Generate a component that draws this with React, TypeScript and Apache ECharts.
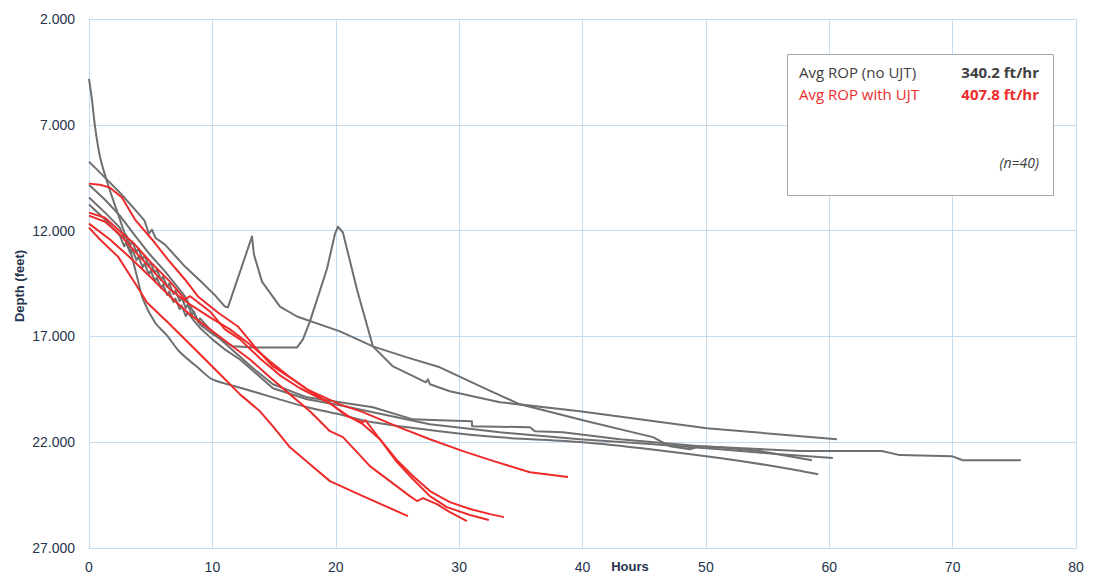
import React, { useEffect, useRef } from "react";
import * as echarts from "echarts";

// Hours vs depth (feet) per run — gray: no UJT, red: with UJT
const noUjtRun1: [number, number][] = [[0,4830],[0.24,5820],[0.49,7090],[0.89,8510],[1.54,9830],[2.51,11480],[3.32,12900],[3.89,14170],[4.38,15250],[5.35,16340],[6.32,16950],[7.3,17700],[9.0,18560],[10.0,19030],[12.4,19450],[14.9,19880],[17.7,20350],[20.3,20680],[23.0,21060],[28.4,21480],[33.3,21770],[40.0,22000],[45.5,22330],[51.1,22750],[56.0,23180],[59.1,23510]];
const noUjtRun2: [number, number][] = [[0,8750],[0.65,9120],[1.46,9590],[2.51,10210],[3.73,11010],[4.5,11530],[4.85,12150],[5.1,11950],[5.4,12350],[6.16,12660],[7.78,13700],[9.16,14450],[10.2,15050],[11.02,15590],[11.26,15630],[13.21,12280],[13.37,13130],[14.02,14410],[15.48,15590],[16.86,16060],[20.34,16760],[23.01,17470],[25.77,17990],[28.44,18460],[32.25,19500],[34.93,20210],[40.36,21010],[45.71,21760],[47.08,22190],[48.7,22330],[49.51,22190],[51.13,22240],[54.38,22420],[58.59,22850]];
const noUjtRun3: [number, number][] = [[0,9830],[1.3,10540],[2.5,11290],[3.73,12240],[4.94,13130],[6.16,13930],[7.78,15110],[9.0,16430],[10.05,16910],[11.67,17470],[13.5,17520],[16.86,17520],[17.34,17140],[17.91,16290],[19.29,13800],[19.94,12150],[20.18,11810],[20.58,12090],[21.72,14780],[23.01,17470],[24.64,18420],[27.31,19170],[27.47,19030],[27.63,19260],[29.25,19590],[33.31,20110],[39.79,20540],[50.08,21340],[60.62,21860]];
const noUjtRun4: [number, number][] = [[0,10440],[1.3,11150],[2.5,11860],[2.85,12360],[3.0,12190],[3.35,12690],[3.5,12520],[3.85,13020],[4.0,12850],[4.35,13350],[4.5,13180],[4.85,13680],[5.0,13510],[5.35,14010],[5.5,13840],[5.85,14340],[6.0,14170],[6.35,14670],[6.5,14500],[6.85,15000],[7.0,14830],[7.35,15330],[7.5,15160],[7.85,15660],[8.0,15490],[8.35,15990],[8.5,15820],[8.85,16320],[9.0,16150],[10.0,16800],[11.4,17520],[13.21,18460],[14.91,19260],[17.67,19880],[20.34,20110],[23.01,20350],[26.26,20920],[28.44,20960],[31.04,21010],[31.05,21250],[35.74,21290],[36.14,21480],[38.41,21530],[43.03,21860],[49.51,22190],[57.62,22420],[64.26,22420],[65.72,22610],[69.93,22660],[70.83,22850],[75.53,22850]];
const noUjtRun5: [number, number][] = [[0,10770],[1.3,11480],[2.5,12240],[2.85,12740],[3.0,12570],[3.35,13070],[3.5,12900],[3.85,13400],[4.0,13230],[4.35,13730],[4.5,13560],[4.85,14060],[5.0,13890],[5.35,14390],[5.5,14220],[5.85,14720],[6.0,14550],[6.35,15050],[6.5,14880],[6.85,15380],[7.0,15210],[7.35,15710],[7.5,15540],[7.85,16040],[8.0,15870],[8.5,16250],[9.0,16600],[10.0,17140],[11.0,17610],[12.24,18090],[14.91,19450],[17.67,19970],[20.34,20250],[23.01,20580],[27.63,21150],[33.31,21530],[39.79,21860],[45.46,22090],[51.13,22330],[56.0,22570],[60.29,22750]];

const ujtRun1: [number, number][] = [[0,11860],[0.89,12420],[2.35,13230],[3.97,14700],[4.7,15400],[6.4,16340],[8.59,17610],[10.62,18790],[12.24,19740],[13.86,20540],[14.91,21250],[16.29,22240],[17.91,23040],[19.53,23840],[22.2,24550],[25.85,25490]];
const ujtRun2: [number, number][] = [[0,9780],[0.89,9830],[1.7,9970],[2.67,10440],[3.73,11480],[5.11,12420],[6.4,13370],[7.78,14310],[8.83,15110],[10.45,15870],[12.07,16530],[13.61,17610],[14.91,18420],[16.53,19030],[17.67,19500],[20.34,20210],[22.2,20580],[24.96,21250],[27.63,21860],[30.31,22420],[33.06,22940],[35.74,23420],[38.82,23650]];
const ujtRun3: [number, number][] = [[0,11670],[1.7,12420],[3.32,13270],[4.94,14170],[6.56,15110],[8.18,15960],[9.81,16670],[11.43,17380],[13.05,18090],[14.67,18930],[16.29,19740],[17.91,20540],[19.53,21480],[20.58,21760],[21.72,22470],[22.77,23130],[24.39,23840],[26.01,24550],[26.58,24780],[27.07,24640],[28.2,24930],[29.25,25300],[30.63,25730]];
const ujtRun4: [number, number][] = [[0,11290],[1.3,11580],[2.51,12190],[3.73,12990],[4.94,13750],[6.56,14780],[8.18,15490],[9.81,16100],[11.43,16670],[13.05,17380],[14.67,18180],[16.29,18930],[17.91,19590],[19.53,20160],[21.15,20820],[22.2,21150],[23.58,21860],[24.96,22940],[26.26,23750],[27.63,24550],[29.01,25070],[30.88,25440],[32.41,25680]];
const ujtRun5: [number, number][] = [[0,11150],[1.3,11390],[2.35,11950],[3.73,12660],[4.94,13460],[6.56,14410],[7.78,15250],[8.2,15100],[9.81,15820],[11.02,16670],[12.24,17140],[13.86,18040],[15.48,18840],[17.1,19450],[19.53,20160],[20.91,20770],[22.2,21060],[22.4,20960],[23.58,21860],[24.96,22850],[26.26,23600],[27.63,24310],[29.25,24830],[30.88,25160],[32.5,25400],[33.63,25540]];

const noUjtRuns = [noUjtRun1, noUjtRun2, noUjtRun3, noUjtRun4, noUjtRun5];
const ujtRuns = [ujtRun1, ujtRun2, ujtRun3, ujtRun4, ujtRun5];

const legendLabels = ["Avg ROP (no UJT)", "Avg ROP with UJT"];
const legendValues = ["340.2 ft/hr", "407.8 ft/hr"];
const sampleNote = "(n=40)";
const xAxisTitle = "Hours";
const yAxisTitle = "Depth (feet)";

const GRAY = "#6f6f6f";
const RED = "#ee2b2b";
const NAVY = "#26344d";
const GRID = "#c6ddf1";
const FONT = "'Liberation Sans', Arial, sans-serif";
const LFONT = "'Open Sans', 'Liberation Sans', sans-serif";

const fmtDepth = (v: number) => {
  const s = String(Math.round(v));
  return s.slice(0, s.length - 3) + "." + s.slice(-3);
};

export default function App() {
  const ref = useRef<HTMLDivElement>(null);
  useEffect(() => {
    if (!ref.current) return;
    const chart = echarts.init(ref.current, undefined, { renderer: "svg" });
    const mk = (data: [number, number][], color: string, i: number, group: string, smooth: number | boolean) => ({
      name: group + i,
      type: "line",
      data,
      symbol: "none",
      smooth,
      lineStyle: { color, width: 2, join: "round" },
      z: color === RED ? 3 : 2,
    });
    chart.setOption({
      animation: false,
      backgroundColor: "#ffffff",
      grid: { left: 89, right: 17, top: 19, bottom: 26, containLabel: false },
      xAxis: {
        type: "value",
        min: 0,
        max: 80,
        interval: 10,
        axisLine: { show: true, lineStyle: { color: GRID, width: 1 } },
        axisTick: { show: false },
        splitLine: { show: true, lineStyle: { color: GRID, width: 1 } },
        axisLabel: { color: NAVY, fontSize: 14, fontFamily: FONT, margin: 12 },
      },
      yAxis: {
        type: "value",
        inverse: true,
        min: 2000,
        max: 27000,
        interval: 5000,
        axisLine: { show: true, lineStyle: { color: GRID, width: 1 } },
        axisTick: { show: false },
        splitLine: { show: true, lineStyle: { color: GRID, width: 1 } },
        axisLabel: { color: NAVY, fontSize: 14, fontFamily: FONT, margin: 14, formatter: fmtDepth },
      },
      series: [
        ...noUjtRuns.map((d, i) => mk(d, GRAY, i, "noUJT", i === 0 ? 0.3 : false)),
        ...ujtRuns.map((d, i) => mk(d, RED, i, "UJT", false)),
      ],
      graphic: [
        {
          type: "text",
          x: 630,
          y: 566,
          style: { text: xAxisTitle, fill: NAVY, font: `bold 13px ${FONT}`, textAlign: "center", textVerticalAlign: "middle" },
        },
        {
          type: "text",
          x: 19,
          y: 286,
          rotation: Math.PI / 2,
          style: { text: yAxisTitle, fill: NAVY, font: `bold 13px ${FONT}`, textAlign: "center", textVerticalAlign: "middle" },
        },
        {
          type: "rect",
          z: 100,
          shape: { x: 787.5, y: 54.5, width: 266, height: 141 },
          style: { fill: "#ffffff", stroke: "#a6a6a6", lineWidth: 1 },
        },
        {
          type: "text", z: 101, x: 799, y: 72,
          style: { text: legendLabels[0], fill: "#404040", font: `15px ${LFONT}`, textAlign: "left", textVerticalAlign: "middle" },
        },
        {
          type: "text", z: 101, x: 1039, y: 72,
          style: { text: legendValues[0], fill: "#404040", font: `bold 15px ${LFONT}`, textAlign: "right", textVerticalAlign: "middle" },
        },
        {
          type: "text", z: 101, x: 799, y: 94,
          style: { text: legendLabels[1], fill: RED, font: `15px ${LFONT}`, textAlign: "left", textVerticalAlign: "middle" },
        },
        {
          type: "text", z: 101, x: 1039, y: 94,
          style: { text: legendValues[1], fill: RED, font: `bold 15px ${LFONT}`, textAlign: "right", textVerticalAlign: "middle" },
        },
        {
          type: "text", z: 101, x: 1039, y: 162,
          style: { text: sampleNote, fill: "#404040", font: `italic 14px ${LFONT}`, textAlign: "right", textVerticalAlign: "middle" },
        },
      ],
    });
    return () => chart.dispose();
  }, []);
  return (
    <div
      ref={ref}
      style={{ position: "fixed", left: 0, top: 0, width: 1093, height: 574, background: "#fff" }}
    />
  );
}
